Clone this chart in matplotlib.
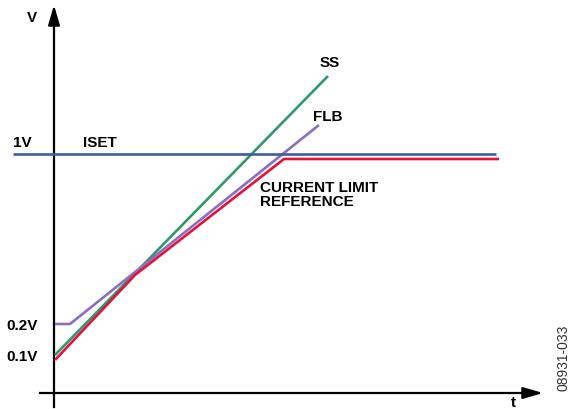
import matplotlib
matplotlib.use("Agg")
import matplotlib.pyplot as plt

# Schematic data (units: origin at axis intersection)
iset_t = [-41, 442]
iset_v = [239, 239]
clref_t = [1, 81, 230, 445]
clref_v = [33, 118, 234, 234]
ss_t = [1, 274]
ss_v = [38, 317]
flb_t = [1, 16, 265]
flb_v = [69, 69, 268]

W, H = 571, 409
X0, Y0 = 54, 393

fig = plt.figure(figsize=(W / 100, H / 100), dpi=100)
ax = fig.add_axes([0, 0, 1, 1])
ax.set_xlim(-X0, W - X0)
ax.set_ylim(Y0 - H, Y0)
ax.axis("off")

lw = 1.9
ax.plot(ss_t, ss_v, color="#2e9a68", lw=lw, solid_capstyle="butt", zorder=3)
ax.plot(flb_t, flb_v, color="#8a6fc0", lw=lw, solid_capstyle="butt", zorder=3)
ax.plot(clref_t, clref_v, color="#e2123c", lw=lw, solid_capstyle="butt", zorder=4)
ax.plot(iset_t, iset_v, color="#3d5e9e", lw=lw, solid_capstyle="butt", zorder=5)

# axes with arrows
ax.plot([-14, 475], [0, 0], color="black", lw=1.6, zorder=2)
ax.annotate("", xy=(489, 0), xytext=(470, 0),
            arrowprops=dict(arrowstyle="-|>,head_length=1.2,head_width=0.35",
                            color="black", lw=1.6, shrinkA=0, shrinkB=0))
ax.plot([0, 0], [-14, 374], color="black", lw=1.6, zorder=2)
ax.annotate("", xy=(0, 388), xytext=(0, 370),
            arrowprops=dict(arrowstyle="-|>,head_length=1.2,head_width=0.35",
                            color="black", lw=1.6, shrinkA=0, shrinkB=0))

font = dict(family="Liberation Sans", fontweight="bold", fontsize=11, color="black")

def P(px, py):
    return px - X0, Y0 - py

ax.text(*P(32, 18), "V", ha="center", va="center", **font)
ax.text(*P(22, 143), "1V", ha="center", va="center", **font)
ax.text(*P(100, 143), "ISET", ha="center", va="center", **font)
ax.text(*P(22, 326), "0.2V", ha="center", va="center", **font)
ax.text(*P(22, 357), "0.1V", ha="center", va="center", **font)
ax.text(*P(330, 63), "SS", ha="center", va="center", **font)
ax.text(*P(328, 117), "FLB", ha="center", va="center", **font)
ax.text(*P(260, 195), "CURRENT LIMIT\nREFERENCE", ha="left", va="center",
        linespacing=0.95, **font)
ax.text(*P(513, 403), "t", ha="center", va="center", **font)
ax.text(*P(563, 358), "08931-033", ha="center", va="center", rotation=90,
        family="Liberation Sans", fontsize=10, color="#333333")

fig.savefig("out.png", dpi=100)
